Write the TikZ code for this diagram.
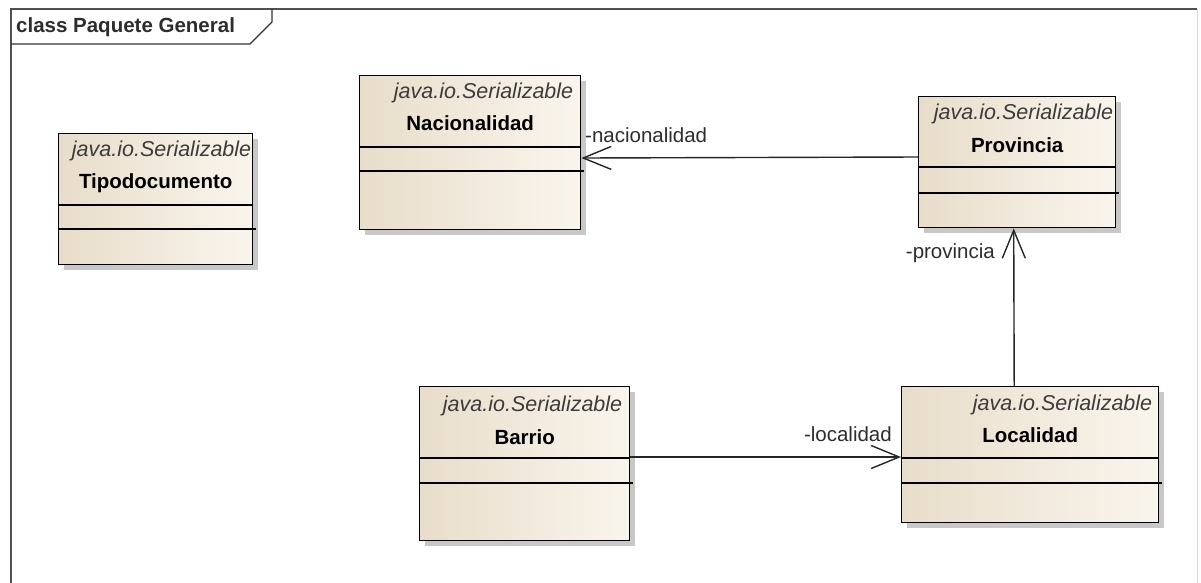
\documentclass[tikz,border=0pt]{standalone}
\usepackage{fontspec}
\setmainfont{Liberation Sans}
\usetikzlibrary{arrows.meta,shadows,calc}
\definecolor{boxL}{RGB}{232,221,202}
\definecolor{boxR}{RGB}{250,245,237}
\definecolor{framec}{RGB}{80,80,80}
\definecolor{txtc}{RGB}{45,45,45}
\definecolor{stc}{RGB}{60,60,60}
\tikzset{
  classbox/.style={draw=black, line width=1.4pt, rectangle, inner sep=0pt, anchor=north west,
    left color=boxL, right color=boxR,
    drop shadow={shadow xshift=5pt, shadow yshift=-5pt, fill=black!30, opacity=0.7}},
  stereo/.style={inner sep=0pt, anchor=east, text=stc, font=\fontsize{21.5}{24}\selectfont\itshape},
  cname/.style={inner sep=0pt, text=black, font=\fontsize{20.5}{24}\selectfont\bfseries},
  role/.style={inner sep=0pt, text=txtc, font=\fontsize{20.5}{24}\selectfont},
  comp/.style={line width=1.4pt, black},
  assoc/.style={line width=1.4pt, black!85, -{Straight Barb[length=28pt,width=23pt,line width=1.4pt]}},
  framel/.style={line width=2.6pt, framec}
}
\begin{document}
\begin{tikzpicture}[x=1pt,y=-1pt]
\useasboundingbox (0,0) rectangle (1201,582);
\fill[white] (0,0) rectangle (1201,582);
% frame
\draw[framel] (11,600) -- (11,9) -- (1197,9);
\draw[line width=1pt, black!15] (1197,9) -- (1197,600);
\draw[line width=1.4pt, black!80] (11,44) -- (250,44) -- (272,22) -- (272,9);
\node[inner sep=0pt, anchor=west, font=\fontsize{20.5}{24}\selectfont\bfseries, text=txtc] (title) at (16,27) {class Paquete General};

% classes
\node[classbox, minimum width=194pt, minimum height=131pt] (tipo) at (58,133) {};
\node[classbox, minimum width=221pt, minimum height=154pt] (nac) at (359,75) {};
\node[classbox, minimum width=197pt, minimum height=131pt] (prov) at (918,96) {};
\node[classbox, minimum width=210pt, minimum height=154pt] (bar) at (419,386) {};
\node[classbox, minimum width=257pt, minimum height=136pt] (loc) at (901,386) {};

% compartments
\foreach \n/\a/\b in {tipo/72/96, nac/72/96, prov/71/97, bar/72/97, loc/72/97}{
  \draw[comp] ([yshift=-\a pt]\n.north west) -- ([yshift=-\a pt]\n.north east);
  \draw[comp] ([yshift=-\b pt]\n.north west) -- ([yshift=-\b pt,xshift=3pt]\n.north east);
}

% texts
\node[stereo] (tipoS) at ([xshift=-2pt,yshift=-18pt]tipo.north east) {java.io.Serializable};
\node[cname] (tipoN) at ([yshift=-50pt]tipo.north) {Tipodocumento};
\node[stereo] (nacS) at ([xshift=-8pt,yshift=-18pt]nac.north east) {java.io.Serializable};
\node[cname] (nacN) at ([yshift=-48pt]nac.north) {Nacionalidad};
\node[stereo] (provS) at ([xshift=-3pt,yshift=-18pt]prov.north east) {java.io.Serializable};
\node[cname] (provN) at ([yshift=-49pt]prov.north) {Provincia};
\node[stereo] (barS) at ([xshift=-8pt,yshift=-20pt]bar.north east) {java.io.Serializable};
\node[cname] (barN) at ([yshift=-51pt]bar.north) {Barrio};
\node[stereo] (locS) at ([xshift=-7pt,yshift=-19pt]loc.north east) {java.io.Serializable};
\node[cname] (locN) at ([yshift=-49pt]loc.north) {Localidad};

% associations
\draw[assoc] ([yshift=-61pt]prov.north west) -- ([yshift=-83pt]nac.north east);
\draw[assoc] ([xshift=-16pt]loc.north) -- ([xshift=-3.5pt]prov.south);
\draw[assoc] ([yshift=-71pt]bar.north east) -- ([yshift=-71pt]loc.north west);

% role labels
\node[role, anchor=west] (rnac) at (585,135) {-nacionalidad};
\node[role, anchor=east] (rprov) at (995,253) {-provincia};
\node[role, anchor=east] (rloc) at (892,434) {-localidad};
\end{tikzpicture}
\end{document}
